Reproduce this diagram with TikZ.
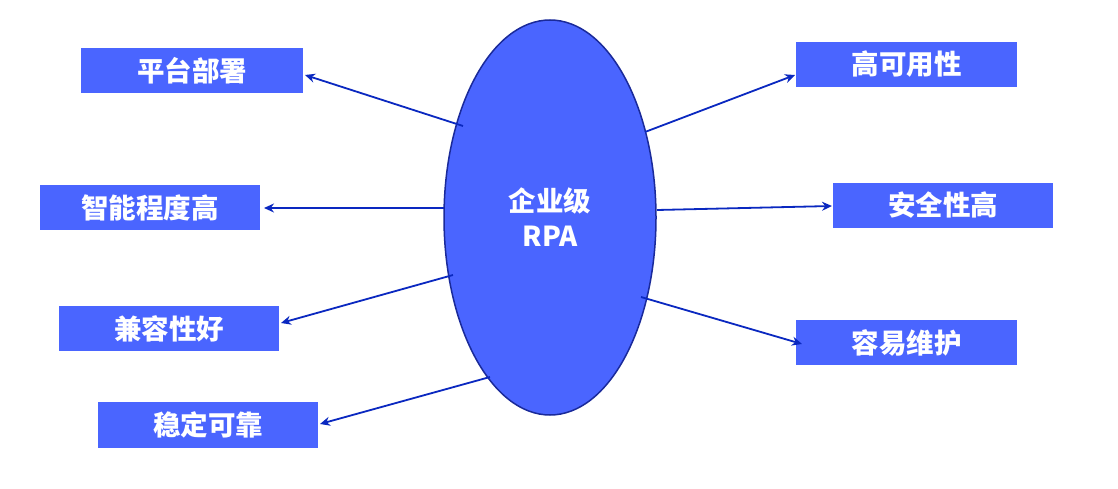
\documentclass[tikz,border=0pt]{standalone}
\usepackage{fontspec}
\newfontfamily\cjk{Noto Sans CJK SC}
\usetikzlibrary{arrows.meta,shapes.geometric}
\definecolor{boxblue}{HTML}{4A65FF}
\definecolor{edgeblue}{HTML}{1A2A9A}
\definecolor{arrowblue}{HTML}{0A28C0}
\tikzset{
  lbl/.style={fill=boxblue, draw=none, text=white, inner sep=0pt, font=\cjk\bfseries\fontsize{27.5}{32}\selectfont},
  conn/.style={draw=arrowblue, line width=1.8pt, -{Stealth[length=10pt,width=9pt]}},
}
\begin{document}
\begin{tikzpicture}[x=1pt,y=-1pt]
\useasboundingbox (0,0) rectangle (1118,489);
\fill[white] (0,0) rectangle (1118,489);
% ellipse
\node[ellipse, draw=edgeblue, line width=1.5pt, fill=boxblue, minimum width=212pt, minimum height=395pt, inner sep=0pt] (rpa) at (550,217.5) {};
\node[text=white, align=center, font=\cjk\bfseries\fontsize{27.5}{35}\selectfont] (rpat) at (550,217) {企业级\\RPA};
% boxes
\node[lbl, minimum width=222pt, minimum height=45pt] (b1) at (192,70.5) {平台部署};
\node[lbl, minimum width=220pt, minimum height=45pt] (b2) at (150,207.5) {智能程度高};
\node[lbl, minimum width=220pt, minimum height=45pt] (b3) at (169,328.5) {兼容性好};
\node[lbl, minimum width=220pt, minimum height=46pt] (b4) at (208,425) {稳定可靠};
\node[lbl, minimum width=221pt, minimum height=45pt] (b5) at (906.5,64.5) {高可用性};
\node[lbl, minimum width=220pt, minimum height=45pt] (b6) at (943,205.5) {安全性高};
\node[lbl, minimum width=221pt, minimum height=45pt] (b7) at (906.5,342.5) {容易维护};
% connector end points
\coordinate (s1) at (463,126);
\coordinate (e1) at (305,75);
\coordinate (s2) at (444,208);
\coordinate (e2) at (264,208);
\coordinate (s3) at (453,275);
\coordinate (e3) at (281,323);
\coordinate (s4) at (490,377);
\coordinate (e4) at (320,424);
\coordinate (s5) at (645,132);
\coordinate (e5) at (795,75);
\coordinate (s6) at (657,210);
\coordinate (e6) at (832,206);
\coordinate (s7) at (641,297);
\coordinate (e7) at (802,344);
\draw[conn] (s1) -- (e1);
\draw[conn] (s2) -- (e2);
\draw[conn] (s3) -- (e3);
\draw[conn] (s4) -- (e4);
\draw[conn] (s5) -- (e5);
\draw[conn] (s6) -- (e6);
\draw[conn] (s7) -- (e7);
\end{tikzpicture}
\end{document}
